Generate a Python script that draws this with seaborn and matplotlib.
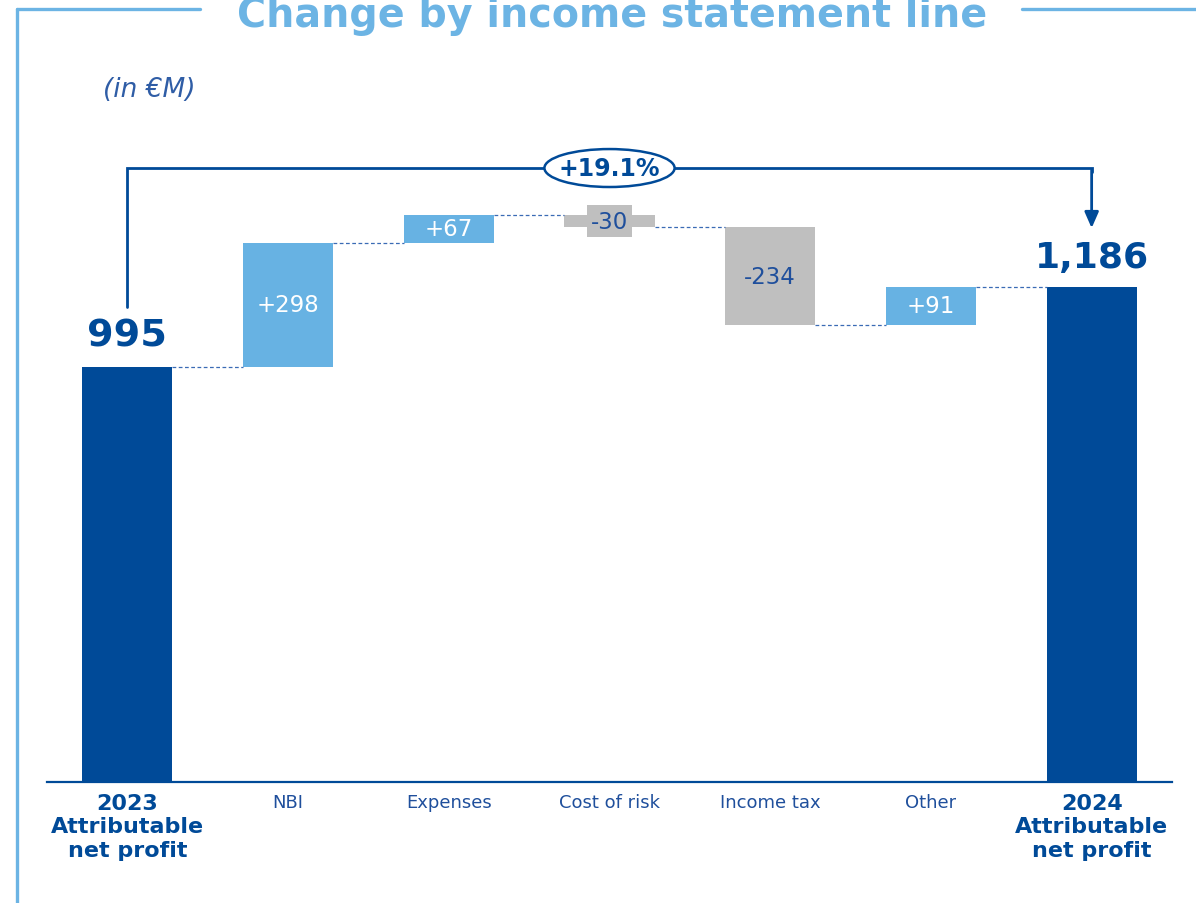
import numpy as np
import pandas as pd
import seaborn as sns
import matplotlib.pyplot as plt
from matplotlib.patches import Ellipse
from matplotlib.lines import Line2D

categories = ["2023\nAttributable\nnet profit", "NBI", "Expenses", "Cost of risk",
              "Income tax", "Other", "2024\nAttributable\nnet profit"]
start_value = 995
changes = [298, 67, -30, -234, 91]
end_value = 1186
change_labels = ["+298", "+67", "-30", "-234", "+91"]
growth_label = "+19.1%"

DARK = "#004A98"
LIGHT = "#67B2E3"
GREY = "#BFBFBF"
TXT = "#1F4F9C"
FRAME = "#6CB4E4"

sns.set_theme(style="white")
plt.rcParams['font.family'] = ['DejaVu Sans']

# waterfall geometry
heights = [start_value] + changes + [end_value]
running = np.cumsum([start_value] + changes)
bottoms = [0] + list(running[:-1]) + [0]
colors = [DARK] + [LIGHT if c > 0 else GREY for c in changes] + [DARK]

df = pd.DataFrame({"cat": categories, "h": heights})

fig = plt.figure(figsize=(11.96, 9.04), dpi=100)
ax = fig.add_axes([47 / 1196, 121 / 904, 1125 / 1196, 663 / 904])

sns.barplot(data=df, x="cat", y="h", bottom=bottoms, width=0.56, ax=ax,
            color=DARK, linewidth=0, saturation=1)
for p, c in zip(ax.patches, colors):
    p.set_facecolor(c)
    p.set_edgecolor("none")

ax.set_xlim(-0.5, 6.5)
ax.set_ylim(0, 663 / 0.4171)

# dashed connectors between bars
levels = list(running)
for i in range(len(categories) - 1):
    lvl = levels[i]
    ax.plot([i + 0.28, i + 1 - 0.28], [lvl, lvl], color="#3A6BB5", lw=0.9,
            ls=(0, (3, 2)), zorder=1)

# bar labels
for i, (c, lab) in enumerate(zip(changes, change_labels)):
    x = i + 1
    y = bottoms[x] + c / 2
    if lab == "-30":
        ax.text(x, y, lab, ha="center", va="center", color=TXT, fontsize=16.5,
                bbox=dict(boxstyle="square,pad=0.18", fc=GREY, ec="none"), zorder=5)
    else:
        ax.text(x, y, lab, ha="center", va="center", fontsize=16.5,
                color="white" if c > 0 else TXT, zorder=5)

ax.text(0, start_value + 32, f"{start_value:,}", ha="center", va="bottom",
        fontsize=27.5, fontweight="bold", color=DARK)
ax.text(6, end_value + 32, f"{end_value:,}", ha="center", va="bottom",
        fontsize=26, fontweight="bold", color=DARK)

# bracket with growth
top = 1472
ax.plot([0, 0, 6, 6], [1139, top, top, top - 10], color=DARK, lw=2, zorder=3,
        solid_joinstyle="miter")
ax.annotate("", xy=(6, 1328), xytext=(6, top - 5),
            arrowprops=dict(arrowstyle="-|>,head_length=0.8,head_width=0.35",
                            color=DARK, lw=2, shrinkA=0, shrinkB=0))
ax.add_patch(Ellipse((3, top), 0.81, 91, fc="white", ec=DARK, lw=1.8, zorder=4))
ax.text(3, top, growth_label, ha="center", va="center", fontsize=17,
        fontweight="bold", color=DARK, zorder=5)

# axes styling
sns.despine(ax=ax, left=True)
ax.spines["bottom"].set_color(DARK)
ax.spines["bottom"].set_linewidth(1.6)
ax.set_yticks([])
ax.set_xlabel("")
ax.set_ylabel("")
ax.tick_params(axis="x", length=0, pad=8)
ax.set_xticks(range(len(categories)))
ax.set_xticklabels(categories)
for i, t in enumerate(ax.get_xticklabels()):
    t.set_color(TXT)
    t.set_va("top")
    if i in (0, len(categories) - 1):
        t.set_fontsize(16)
        t.set_fontweight("bold")
        t.set_linespacing(1.2)
        t.set_color(DARK)
    else:
        t.set_fontsize(13)

# frame and title
fig.add_artist(Line2D([17 / 1196, 17 / 1196], [0, 1 - 10 / 904], color=FRAME, lw=2.4))
fig.add_artist(Line2D([17 / 1196, 200 / 1196], [1 - 10 / 904] * 2, color=FRAME, lw=2.4))
fig.add_artist(Line2D([1022 / 1196, 1], [1 - 10 / 904] * 2, color=FRAME, lw=2.4))
fig.text(612 / 1196, 1 - 27 / 904, "Change by income statement line", ha="center",
         va="baseline", fontsize=28.5, fontweight="bold", color=FRAME)
fig.text(103 / 1196, 1 - 90 / 904, "(in €M)", ha="left", va="center",
         fontsize=19, style="italic", color="#2F5DA6")

fig.savefig("out.png", dpi=100)
